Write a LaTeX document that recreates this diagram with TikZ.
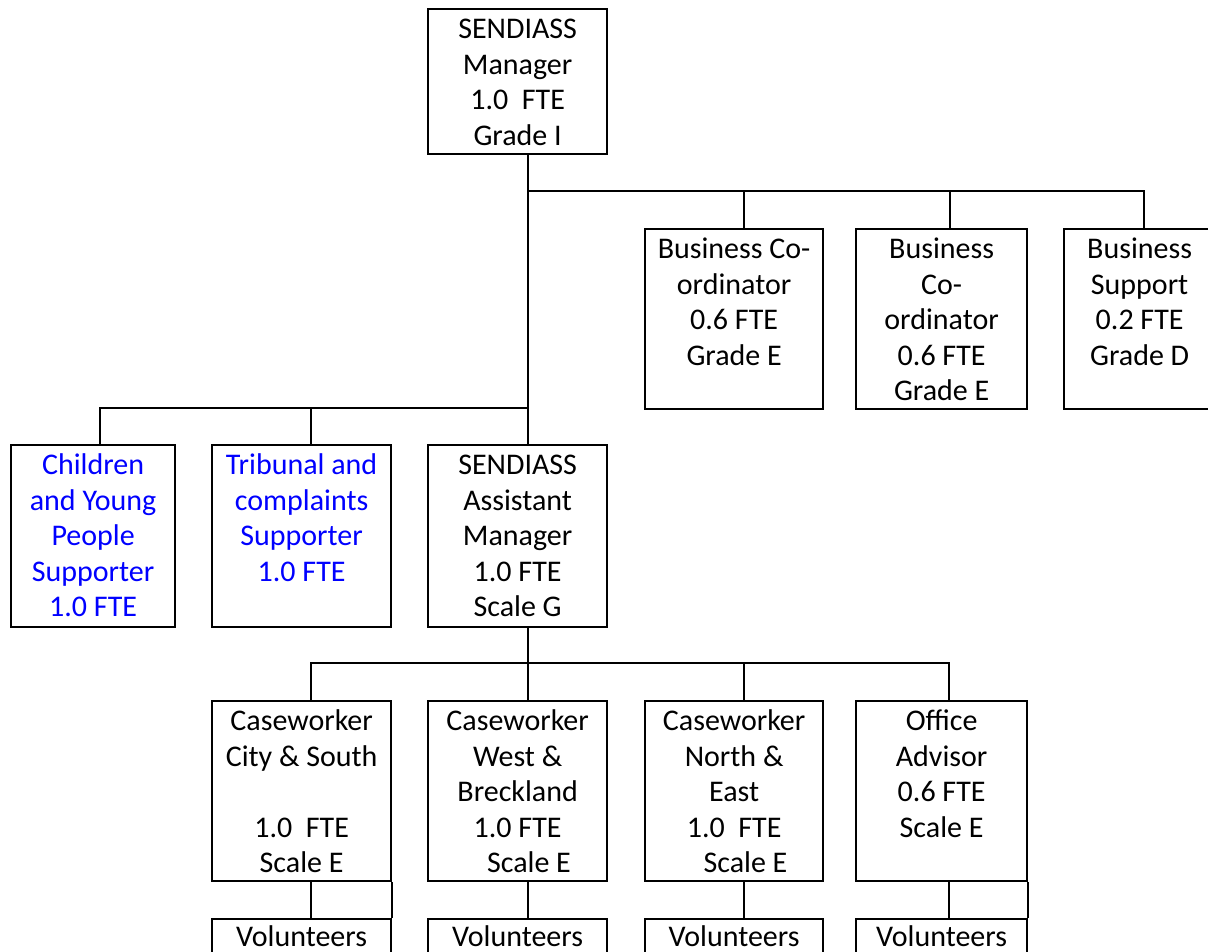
\documentclass[tikz,border=0pt]{standalone}
\usepackage{fontspec}
\setmainfont{Carlito}
\newdimen\px \px=0.75pt
\newcommand\bt[4][29.5]{\parbox[b][#3\px][t]{#2\px}{\centering\rule{0pt}{#1\px}#4}}
\definecolor{wordblue}{RGB}{0,0,255}
\tikzset{
  ob/.style={draw, line width=1.7pt, inner sep=0pt, anchor=north west},
  conn/.style={draw, line width=1.7pt},
  every node/.style={font=\fontsize{22.5}{26.6}\selectfont}
}
\begin{document}
\begin{tikzpicture}[x=0.75pt,y=-0.75pt]
\clip (0,0) rectangle (1208,951);
\fill[white] (0,0) rectangle (1208,951);
% level 0
\node[ob] (top) at (427,8) {\bt{179}{145}{SENDIASS\\Manager\\1.0\ \ FTE\\Grade I}};
% business
\node[ob] (bc1) at (644,228) {\bt{178}{180}{Business Co-\\ordinator\\0.6 FTE\\Grade E}};
\node[ob] (bc2) at (855,228) {\bt{171}{180}{Business\\Co-\\ordinator\\0.6 FTE\\Grade E}};
\node[ob] (bs) at (1063,228) {\bt{151}{180}{Business\\Support\\0.2 FTE\\Grade D}};
% level 1
\node[ob, text=wordblue] (cyp) at (10,444) {\bt{164}{182}{Children\\and Young\\People\\Supporter\\1.0 FTE}};
\node[ob, text=wordblue] (trib) at (211,444) {\bt{179}{182}{Tribunal and\\complaints\\Supporter\\1.0 FTE}};
\node[ob] (asst) at (427,444) {\bt{179}{182}{SENDIASS\\Assistant\\Manager\\1.0 FTE\\Scale G}};
% level 2
\node[ob] (cw1) at (211,700) {\bt{179}{180}{Caseworker\\City \& South\\\mbox{}\\1.0\ \ FTE\\Scale E}};
\node[ob] (cw2) at (427,700) {\bt{179}{180}{Caseworker\\West \&\\Breckland\\1.0 FTE\\\hspace*{17pt}Scale E}};
\node[ob] (cw3) at (644,700) {\bt{178}{180}{Caseworker\\North \&\\East\\1.0\ \ FTE\\\hspace*{17pt}Scale E}};
\node[ob] (oa) at (855,700) {\bt{171}{180}{Office\\Advisor\\0.6 FTE\\Scale E}};
% volunteers
\node[ob] (v1) at (211,918) {\bt[27]{179}{60}{Volunteers}};
\node[ob] (v2) at (427,918) {\bt[27]{179}{60}{Volunteers}};
\node[ob] (v3) at (644,918) {\bt[27]{178}{60}{Volunteers}};
\node[ob] (v4) at (855,918) {\bt[27]{171}{60}{Volunteers}};
% coordinates
\coordinate (xs) at (528,0);
\coordinate (xb1) at (744,0);
\coordinate (xb2) at (950,0);
\coordinate (xb3) at (1144,0);
\coordinate (xc) at (100,0);
\coordinate (xt) at (311,0);
\coordinate (xw3) at (744,0);
\coordinate (xo) at (949,0);
\coordinate (busT) at (528,191);
\coordinate (busL) at (528,408);
\coordinate (busC) at (528,663);
% connectors
\draw[conn] (top.south -| xs) -- (asst.north -| xs);
\draw[conn] (busT) -| (bs.north -| xb3);
\draw[conn] (busT -| xb1) -- (bc1.north -| xb1);
\draw[conn] (busT -| xb2) -- (bc2.north -| xb2);
\draw[conn] (busL) -| (cyp.north -| xc);
\draw[conn] (busL -| xt) -- (trib.north -| xt);
\draw[conn] (asst.south -| xs) -- (cw2.north -| xs);
\draw[conn] (cw1.north -| xt) |- (busC -| xo) -- (oa.north -| xo);
\draw[conn] (busC -| xw3) -- (cw3.north -| xw3);
\draw[conn] (cw1.south -| xt) -- (v1.north -| xt);
\draw[conn] (cw2.south -| xs) -- (v2.north -| xs);
\draw[conn] (cw3.south -| xw3) -- (v3.north -| xw3);
\draw[conn] (oa.south -| xo) -- (v4.north -| xo);
\draw[conn] (cw1.south east) -- (v1.north east);
\draw[conn] (oa.south east) -- (v4.north east);
\end{tikzpicture}
\end{document}
